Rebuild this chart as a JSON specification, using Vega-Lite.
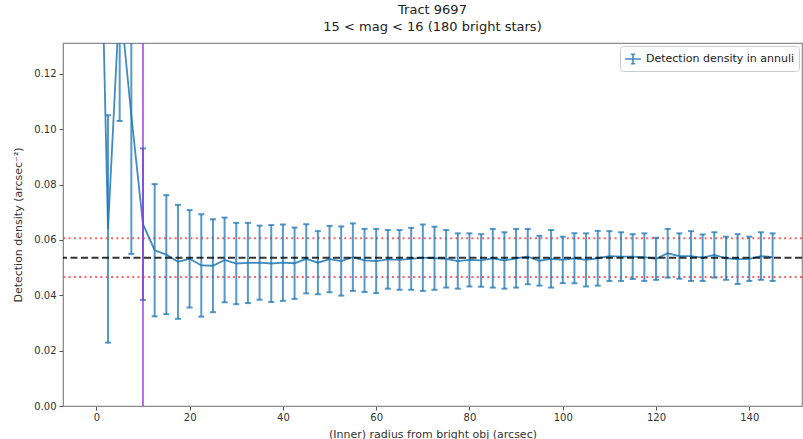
{
  "$schema": "https://vega.github.io/schema/vega-lite/v6.json",
  "width": 739,
  "height": 363,
  "autosize": {"type": "none"},
  "padding": {"left": 63, "top": 43, "right": 1, "bottom": 33},
  "background": "white",
  "config": {
    "font": "DejaVu Sans",
    "view": {"stroke": "#8c8c8c", "strokeWidth": 1.2},
    "axis": {
      "domainColor": "#8c8c8c",
      "tickColor": "#555",
      "tickSize": 4,
      "labelFontSize": 10,
      "labelColor": "#333",
      "titleFontSize": 11,
      "titleFontWeight": "normal",
      "titleColor": "#333",
      "grid": false,
      "labelFont": "DejaVu Sans",
      "titleFont": "DejaVu Sans"
    }
  },
  "title": {
    "text": ["Tract 9697", "15 < mag < 16 (180 bright stars)"],
    "fontSize": 13,
    "fontWeight": "normal",
    "font": "DejaVu Sans",
    "color": "#222",
    "lineHeight": 17,
    "offset": 8,
    "anchor": "middle"
  },
  "datasets": {
    "dens": [
      {"r": 0, "d": 0.25, "err": 0.08},
      {"r": 2.5, "d": 0.0640, "err": 0.0411},
      {"r": 5, "d": 0.148, "err": 0.045},
      {"r": 7.5, "d": 0.105, "err": 0.050},
      {"r": 10, "d": 0.0657, "err": 0.0274},
      {"r": 12.5, "d": 0.0563, "err": 0.0239},
      {"r": 15, "d": 0.0547, "err": 0.0215},
      {"r": 17.5, "d": 0.0521, "err": 0.0206},
      {"r": 20, "d": 0.0532, "err": 0.0176},
      {"r": 22.5, "d": 0.0508, "err": 0.0185},
      {"r": 25, "d": 0.0507, "err": 0.0168},
      {"r": 27.5, "d": 0.0528, "err": 0.0153},
      {"r": 30, "d": 0.0515, "err": 0.0147},
      {"r": 32.5, "d": 0.0517, "err": 0.0145},
      {"r": 35, "d": 0.0518, "err": 0.0134},
      {"r": 37.5, "d": 0.0515, "err": 0.0139},
      {"r": 40, "d": 0.0518, "err": 0.0138},
      {"r": 42.5, "d": 0.0516, "err": 0.0129},
      {"r": 45, "d": 0.0532, "err": 0.0125},
      {"r": 47.5, "d": 0.0518, "err": 0.0114},
      {"r": 50, "d": 0.0531, "err": 0.0120},
      {"r": 52.5, "d": 0.0524, "err": 0.0125},
      {"r": 55, "d": 0.0538, "err": 0.0122},
      {"r": 57.5, "d": 0.0526, "err": 0.0114},
      {"r": 60, "d": 0.0524, "err": 0.0116},
      {"r": 62.5, "d": 0.0530, "err": 0.0106},
      {"r": 65, "d": 0.0528, "err": 0.0108},
      {"r": 67.5, "d": 0.0532, "err": 0.0112},
      {"r": 70, "d": 0.0536, "err": 0.0120},
      {"r": 72.5, "d": 0.0534, "err": 0.0114},
      {"r": 75, "d": 0.0532, "err": 0.0104},
      {"r": 77.5, "d": 0.0524, "err": 0.0100},
      {"r": 80, "d": 0.0528, "err": 0.0096},
      {"r": 82.5, "d": 0.0526, "err": 0.0095},
      {"r": 85, "d": 0.0534, "err": 0.0106},
      {"r": 87.5, "d": 0.0526, "err": 0.0102},
      {"r": 90, "d": 0.0534, "err": 0.0106},
      {"r": 92.5, "d": 0.0540, "err": 0.0100},
      {"r": 95, "d": 0.0525, "err": 0.0090},
      {"r": 97.5, "d": 0.0532, "err": 0.0104},
      {"r": 100, "d": 0.0528, "err": 0.0084},
      {"r": 102.5, "d": 0.0534, "err": 0.0090},
      {"r": 105, "d": 0.0528, "err": 0.0096},
      {"r": 107.5, "d": 0.0534, "err": 0.0099},
      {"r": 110, "d": 0.0542, "err": 0.0090},
      {"r": 112.5, "d": 0.0540, "err": 0.0088},
      {"r": 115, "d": 0.0540, "err": 0.0081},
      {"r": 117.5, "d": 0.0538, "err": 0.0086},
      {"r": 120, "d": 0.0532, "err": 0.0076},
      {"r": 122.5, "d": 0.0552, "err": 0.0088},
      {"r": 125, "d": 0.0542, "err": 0.0082},
      {"r": 127.5, "d": 0.0542, "err": 0.0090},
      {"r": 130, "d": 0.0536, "err": 0.0084},
      {"r": 132.5, "d": 0.0546, "err": 0.0082},
      {"r": 135, "d": 0.0534, "err": 0.0078},
      {"r": 137.5, "d": 0.0531, "err": 0.0090},
      {"r": 140, "d": 0.0532, "err": 0.0080},
      {"r": 142.5, "d": 0.0542, "err": 0.0086},
      {"r": 145, "d": 0.0538, "err": 0.0086}
    ],
    "hlines": [
      {"y": 0.0606, "kind": "upper"},
      {"y": 0.0466, "kind": "lower"}
    ],
    "mean": [{"y": 0.0536}],
    "vline": [{"x": 10}]
  },
  "layer": [
    {
      "data": {"name": "hlines"},
      "mark": {"type": "rule", "color": "#ff3b3b", "opacity": 0.8, "strokeWidth": 2, "strokeDash": [2, 3.3]},
      "encoding": {
        "y": {"field": "y", "type": "quantitative", "title": "Detection density (arcsec⁻²)", "scale": {"domain": [0, 0.1312], "nice": false, "zero": false}}
      }
    },
    {
      "data": {"name": "dens"},
      "mark": {
        "type": "errorbar",
        "ticks": {"size": 6, "color": "#1f77b4", "opacity": 0.75, "strokeWidth": 1.5},
        "rule": {"color": "#1f77b4", "opacity": 0.75, "strokeWidth": 2},
        "thickness": 2,
        "clip": true
      },
      "encoding": {
        "x": {"field": "r", "type": "quantitative", "title": "(Inner) radius from bright obj (arcsec)"},
        "y": {"field": "d", "type": "quantitative", "title": "Detection density (arcsec⁻²)"},
        "yError": {"field": "err"}
      }
    },
    {
      "data": {"name": "dens"},
      "mark": {"type": "line", "strokeWidth": 1.8, "opacity": 0.85, "clip": true},
      "encoding": {
        "x": {
          "field": "r",
          "type": "quantitative",
          "scale": {"domain": [-7.15, 151.3], "nice": false, "zero": false},
          "axis": {"values": [0, 20, 40, 60, 80, 100, 120, 140], "format": "d", "title": "(Inner) radius from bright obj (arcsec)", "titlePadding": 6, "labelPadding": 2}
        },
        "y": {
          "field": "d",
          "type": "quantitative",
          "axis": {"values": [0, 0.02, 0.04, 0.06, 0.08, 0.1, 0.12], "format": ".2f", "title": "Detection density (arcsec⁻²)", "titlePadding": 10, "labelPadding": 3}
        },
        "color": {
          "datum": "Detection density in annuli",
          "scale": {"range": ["#1f77b4"]},
          "legend": {
            "title": null,
            "orient": "top-right",
            "offset": 3,
            "strokeColor": "#cccccc",
            "fillColor": "white",
            "padding": 4,
            "cornerRadius": 3,
            "labelFontSize": 11,
            "labelColor": "#222",
            "labelFont": "DejaVu Sans",
            "symbolType": "M-1,0L1,0M0,-0.6L0,0.6M-0.25,-0.6L0.25,-0.6M-0.25,0.6L0.25,0.6",
            "symbolSize": 250,
            "symbolStrokeWidth": 1.6,
            "symbolFillColor": "transparent",
            "symbolStrokeColor": "#1f77b4"
          }
        }
      }
    },
    {
      "data": {"name": "mean"},
      "mark": {"type": "rule", "color": "#000000", "opacity": 0.8, "strokeWidth": 2, "strokeDash": [7, 3.5]},
      "encoding": {"y": {"field": "y", "type": "quantitative"}}
    },
    {
      "data": {"name": "vline"},
      "mark": {"type": "rule", "color": "#9b30e0", "opacity": 0.7, "strokeWidth": 2},
      "encoding": {"x": {"field": "x", "type": "quantitative"}}
    }
  ]
}
